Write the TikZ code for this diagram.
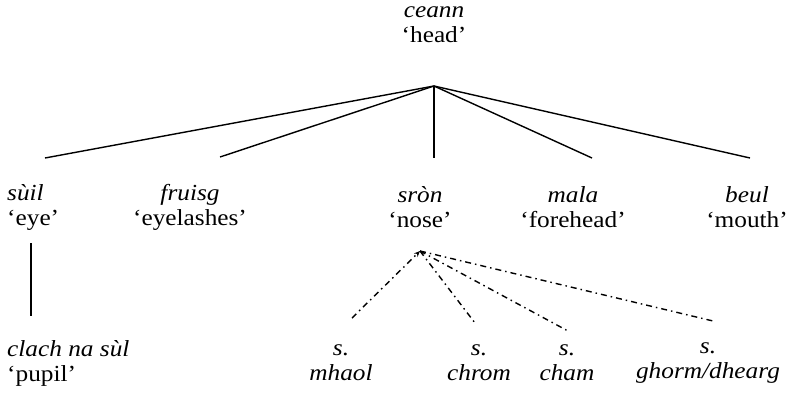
\documentclass[tikz,border=0pt]{standalone}
\usepackage{fontspec}
\setmainfont[FakeStretch=1.1]{Liberation Serif}
\usetikzlibrary{arrows.meta}
\begin{document}
\begin{tikzpicture}[x=1pt,y=-1pt,
  lbl/.style={inner sep=0pt,font=\fontsize{23}{25}\selectfont,align=center},
  lblL/.style={lbl,align=left,anchor=west},
  solidedge/.style={line width=1.4pt},
  dashdot/.style={line width=1.4pt,dash pattern=on 6pt off 4pt on 1.5pt off 4pt}]
\useasboundingbox (0,0) rectangle (787,394);
% nodes
\node[lbl] (ceann) at (434,25) {\textit{ceann}\\‘head’};
\node[lblL] (suil) at (7,207) {\textit{sùil}\\‘eye’};
\node[lbl] (fruisg) at (190,207) {\textit{fruisg}\\‘eyelashes’};
\node[lbl] (sron) at (420,207) {\textit{sròn}\\‘nose’};
\node[lbl] (mala) at (573,207) {\textit{mala}\\‘forehead’};
\node[lbl] (beul) at (747,207) {\textit{beul}\\‘mouth’};
\node[lblL] (clach) at (7,363) {\textit{clach na sùl}\\‘pupil’};
\node[lbl] (mhaol) at (341,363) {\textit{s.}\\\textit{mhaol}};
\node[lbl] (chrom) at (479,363) {\textit{s.}\\\textit{chrom}};
\node[lbl] (cham) at (567,363) {\textit{s.}\\\textit{cham}};
\node[lbl] (ghorm) at (708,363) {\textit{s.}\\\textit{ghorm/dhearg}};
% connector points
\coordinate (top) at (434,86);
\coordinate (eSuil) at (45,158);
\coordinate (eFruisg) at (220,157);
\coordinate (eSron) at (434,158);
\coordinate (eMala) at (592,158);
\coordinate (eBeul) at (750,158);
\coordinate (eyeBot) at (31,243);
\coordinate (pupTop) at (31,316);
\coordinate (noseBot) at (420,251);
\coordinate (dMhaol) at (352,318);
\coordinate (dChrom) at (475,323);
\coordinate (dCham) at (568,331);
\coordinate (dGhorm) at (713,321);
% edges
\draw[solidedge] (top) -- (eSuil);
\draw[solidedge] (top) -- (eFruisg);
\draw[solidedge] (top) -- (eSron);
\draw[solidedge] (top) -- (eMala);
\draw[solidedge] (top) -- (eBeul);
\draw[solidedge] (eyeBot) -- (pupTop);
\draw[dashdot,-{Stealth[length=6pt,width=5pt]}] (dMhaol) -- (noseBot);
\draw[dashdot] (noseBot) -- (dChrom);
\draw[dashdot] (noseBot) -- (dCham);
\draw[dashdot] (noseBot) -- (dGhorm);
\end{tikzpicture}
\end{document}
